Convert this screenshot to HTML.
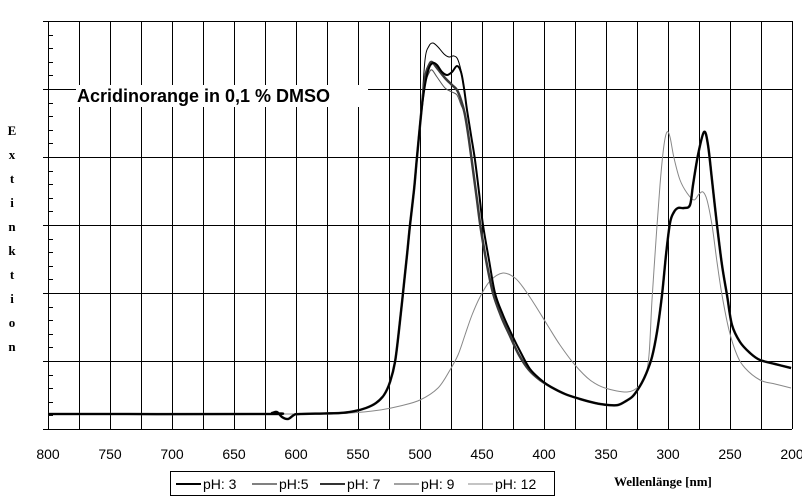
<!DOCTYPE html><html><head><style>body{margin:0;background:#fff}svg{display:block}</style></head><body>
<svg id="s" width="802" height="502" xmlns="http://www.w3.org/2000/svg" font-family="Liberation Sans, sans-serif">
<rect width="802" height="502" fill="#fff"/>
<g id="grid" stroke="#000" stroke-width="1" shape-rendering="crispEdges"></g>
<g id="curves" fill="none" stroke-linejoin="round"></g>
<rect x="76" y="85" width="292" height="22" fill="#fff"/>
<text x="77" y="102" font-size="18" font-weight="bold">Acridinorange in 0,1 % DMSO</text>
<g font-family="Liberation Serif, serif" font-weight="bold" font-size="13" text-anchor="middle">
<text x="12" y="135">E</text><text x="12" y="159">x</text><text x="12" y="183">t</text><text x="12" y="207">i</text><text x="12" y="231">n</text><text x="12" y="255">k</text><text x="12" y="279">t</text><text x="12" y="303">i</text><text x="12" y="327">o</text><text x="12" y="351">n</text>
</g>
<g id="xl" font-size="14" text-anchor="middle" fill="#000"></g>
<text x="614" y="486" font-family="Liberation Serif, serif" font-weight="bold" font-size="13">Wellenlänge [nm]</text>
<rect x="170.5" y="471.5" width="384" height="24" fill="none" stroke="#000"/>
<g font-size="14">
<line x1="176" y1="484" x2="201" y2="484" stroke="#000" stroke-width="2"/><text x="203" y="489">pH: 3</text>
<line x1="252" y1="484" x2="277" y2="484" stroke="#000" stroke-width="1"/><text x="279" y="489">pH:5</text>
<line x1="320" y1="484" x2="345" y2="484" stroke="#333" stroke-width="2"/><text x="347" y="489">pH: 7</text>
<line x1="394" y1="484" x2="419" y2="484" stroke="#444" stroke-width="1"/><text x="421" y="489">pH: 9</text>
<line x1="468" y1="484" x2="493" y2="484" stroke="#888" stroke-width="1"/><text x="495" y="489">pH: 12</text>
</g>
</svg>
<script>
const NS="http://www.w3.org/2000/svg";
function el(t,a,p){const e=document.createElementNS(NS,t);for(const k in a)e.setAttribute(k,a[k]);document.getElementById(p).appendChild(e);return e;}
for(let i=0;i<=24;i++){const x=Math.round(48+i*31)+.5;el('line',{x1:x,y1:21,x2:x,y2:429},'grid');}
for(let j=0;j<=6;j++){const y=21+j*68+.5;el('line',{x1:43,y1:y,x2:792,y2:y},'grid');
 if(j<6)for(let m=1;m<5;m++){const yy=Math.round(21+j*68+m*13.6)+.5;el('line',{x1:48,y1:yy,x2:53,y2:yy},'grid');}}
el('line',{x1:792.5,y1:21,x2:792.5,y2:429},'grid');
for(let i=0;i<=12;i++){const t=el('text',{x:48+i*62,y:459},'xl');t.textContent=800-i*50;}
function path(p){let d='M'+p[0][0]+','+p[0][1];for(let i=0;i<p.length-1;i++){const p0=p[Math.max(0,i-1)],p1=p[i],p2=p[i+1],p3=p[Math.min(p.length-1,i+2)];
d+=' C'+(p1[0]+(p2[0]-p0[0])/6).toFixed(1)+','+(p1[1]+(p2[1]-p0[1])/6).toFixed(1)+' '+(p2[0]-(p3[0]-p1[0])/6).toFixed(1)+','+(p2[1]-(p3[1]-p1[1])/6).toFixed(1)+' '+p2[0]+','+p2[1];}return d;}
function draw(p,c,w){el('path',{d:path(p),stroke:c,'stroke-width':w},'curves');}
const left=[[48,414],[265,414],[272,413],[277,412],[282,417],[288,419],[294,415],[300,414],[340,413],[355,411],[366,408],[376,403],[384,395],[390,382],[395,362],[399,330],[403,293],[407,255],[410,225],[414,190],[417,157],[421,115]];
const tail=[[565,394],[580,399],[595,403],[608,405],[618,405],[626,401],[633,396],[640,386],[646,374],[652,357],[657,332],[662,295],[666,255],[670,223],[674,212],[678,208],[684,208],[690,205],[693,185],[698,155],[704,132],[708,145],[712,180],[717,225],[722,265],[727,295],[732,325],[740,342],[750,353],[760,360],[775,364],[791,368]];
const desc3=[[467,110],[471,135],[475,160],[479,192],[483,225],[489,260],[495,293],[503,315],[512,335],[521,353],[530,369],[540,379],[551,387]];
const desc7=[[465,115],[469,140],[473,170],[477,200],[481,230],[487,265],[493,293],[501,316],[510,336],[519,355],[529,370],[540,380],[551,387]];
const ph3=left.concat([[425,85],[429,68],[433,63],[437,65],[442,72],[447,75],[452,72],[457,66],[461,72],[464,88]],desc3);
const ph5=left.concat([[425,60],[429,46],[433,43],[438,47],[444,54],[449,57],[454,56],[458,60],[462,75],[465,95]],desc3);
const ph7=left.concat([[425,78],[429,65],[432,62],[437,68],[445,78],[452,85],[457,90],[461,100]],desc7);
const ph9=left.concat([[425,85],[429,73],[432,70],[437,77],[445,88],[452,92],[457,95],[461,105]],desc7);
const ph12=[[48,414],[300,414],[350,413],[380,410],[400,406],[420,400],[438,388],[450,370],[458,355],[465,335],[472,315],[480,297],[490,281],[503,273],[515,278],[525,290],[535,305],[548,326],[560,345],[575,365],[590,380],[605,388],[627,392],[638,387],[645,377],[649,355],[652,300],[656,240],[660,185],[664,145],[667,132],[670,137],[674,158],[680,180],[687,193],[694,200],[699,194],[703,192],[707,200],[712,225],[717,262],[722,295],[729,330],[737,355],[745,368],[760,380],[775,384],[791,388]];
draw(ph12,'#888',1);
draw(ph9.concat(tail),'#555',1);
draw(ph5.concat(tail),'#000',1);
draw(ph7.concat(tail),'#3a3a3a',2.5);
draw(ph3.concat(tail),'#000',2);
</script>
</body></html>
